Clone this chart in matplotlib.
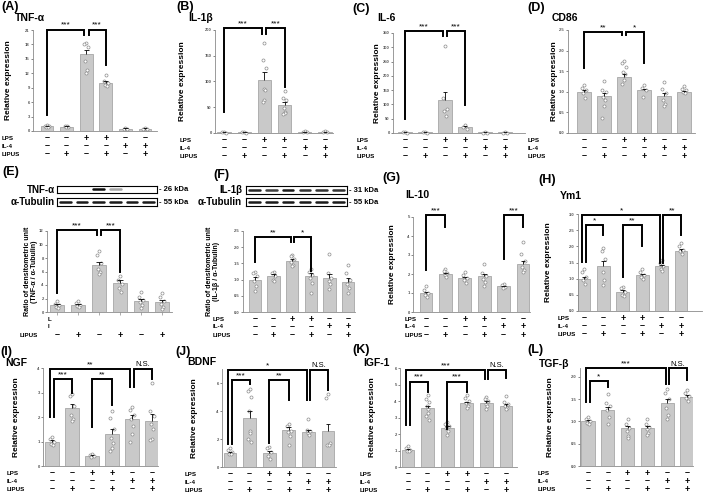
import matplotlib
matplotlib.use("Agg")
import matplotlib.pyplot as plt
import matplotlib.transforms as mtrans

plt.rcParams['font.family'] = ['Liberation Sans', 'DejaVu Sans']
plt.rcParams['font.weight'] = 'bold'

W, H = 709, 494

# treatment table under every panel
lps = ['–', '–', '+', '+', '–', '–']
il4 = ['–', '–', '–', '–', '+', '+']
lipus = ['–', '+', '–', '+', '–', '+']

# (A) TNF-a mRNA
tnf_mean = [1.0, 0.9, 16.0, 10.0, 0.5, 0.5]
tnf_sem = [0.1, 0.1, 0.8, 0.4, 0.05, 0.05]
tnf_pts = [[1.3, 1.1, 1.0, 0.9, 0.8], [1.1, 1.0, 0.9, 0.8],
           [18.4, 18.0, 17.5, 14.5, 12.7, 12.1], [11.6, 10.4, 10.0, 9.6, 9.3],
           [0.6, 0.5, 0.45], [0.6, 0.5, 0.45]]
# (B) IL-1b mRNA
il1b_mean = [1, 1, 103, 54, 2, 2]
il1b_sem = [0.5, 0.3, 16, 6, 0.5, 0.5]
il1b_pts = [[2, 1, 0.5], [1.5, 1, 0.5], [174, 142, 127, 86, 83, 64, 60],
            [81, 68, 64, 48, 40, 38, 37], [3, 2, 1.5], [3, 2, 1.5]]
# (C) IL-6 mRNA
il6_mean = [2, 2, 115, 20, 2, 2]
il6_sem = [0.5, 0.5, 28, 4, 0.5, 0.5]
il6_pts = [[3, 2, 1], [3, 2, 1], [305, 124, 83, 78, 58], [29, 21, 14],
           [2, 1.5, 1], [2, 1.5, 1]]
# (D) CD86
cd86_mean = [1.0, 0.9, 1.35, 1.05, 0.91, 1.0]
cd86_sem = [0.04, 0.08, 0.07, 0.03, 0.06, 0.02]
cd86_pts = [[1.16, 1.1, 1.04, 0.96, 0.85], [1.26, 1.04, 1.0, 0.88, 0.8, 0.65, 0.37],
            [1.75, 1.69, 1.6, 1.49, 1.43, 1.28, 1.2], [1.16, 1.1, 1.04, 0.88],
            [1.24, 1.06, 0.96, 0.8, 0.71, 0.65], [1.14, 1.08, 1.04, 1.0, 0.96]]
# (E) TNF-a western blot ratio
tnfwb_mean = [1.0, 1.1, 7.0, 4.3, 1.6, 1.5]
tnfwb_sem = [0.15, 0.15, 0.45, 0.4, 0.35, 0.35]
tnfwb_pts = [[1.7, 1.2, 1.0, 0.8, 0.6], [1.7, 1.3, 1.1, 0.9, 0.7],
             [9.0, 8.5, 7.2, 6.3, 6.0, 5.7], [5.4, 4.8, 4.2, 3.6, 2.9],
             [3.0, 2.2, 1.8, 1.5, 1.0, 0.6], [2.8, 2.2, 1.6, 1.2, 0.8, 0.5]]
# (F) IL-1b western blot ratio
il1bwb_mean = [1.0, 1.12, 1.58, 1.12, 1.04, 0.92]
il1bwb_sem = [0.08, 0.05, 0.05, 0.08, 0.13, 0.12]
il1bwb_pts = [[1.25, 1.2, 1.1, 0.95, 0.8, 0.65], [1.25, 1.2, 1.1, 1.0, 0.95],
              [1.77, 1.72, 1.65, 1.55, 1.45, 1.42], [1.32, 1.25, 1.15, 1.05, 0.9, 0.6],
              [1.78, 1.2, 1.05, 0.95, 0.85, 0.7], [1.45, 1.2, 1.0, 0.85, 0.75, 0.6]]
# (G) IL-10
il10_mean = [1.0, 2.0, 1.77, 1.87, 1.35, 2.55]
il10_sem = [0.07, 0.05, 0.08, 0.12, 0.04, 0.15]
il10_pts = [[1.35, 1.15, 1.0, 0.9, 0.8], [2.25, 2.15, 2.05, 1.95, 1.85],
            [2.1, 1.95, 1.8, 1.7, 1.55], [2.55, 2.05, 1.9, 1.75, 1.6, 1.35],
            [1.5, 1.4, 1.3, 1.25], [3.7, 3.05, 2.7, 2.35, 2.2, 2.1]]
# (H) Ym1
ym1_mean = [1.0, 1.38, 0.6, 1.1, 1.38, 1.87]
ym1_sem = [0.05, 0.17, 0.05, 0.05, 0.05, 0.06]
ym1_pts = [[1.3, 1.2, 1.05, 0.95, 0.85], [1.95, 1.85, 1.6, 1.2, 0.95, 0.8],
           [0.75, 0.7, 0.6, 0.5, 0.45], [1.3, 1.2, 1.1, 1.05, 1.0],
           [1.58, 1.5, 1.4, 1.3, 1.25], [2.1, 2.0, 1.9, 1.85, 1.75]]
# (I) NGF
ngf_mean = [1.0, 2.37, 0.42, 1.32, 1.92, 1.85]
ngf_sem = [0.05, 0.18, 0.03, 0.2, 0.18, 0.27]
ngf_pts = [[1.2, 1.1, 1.0, 0.9, 0.85], [2.95, 2.85, 2.45, 2.1, 1.9, 1.85],
           [0.5, 0.45, 0.4, 0.38], [2.25, 1.95, 1.5, 1.15, 0.95, 0.75, 0.62],
           [2.4, 2.3, 2.1, 1.9, 1.65, 1.3, 1.0], [3.4, 2.25, 2.05, 1.7, 1.5, 1.1, 1.05]]
# (J) BDNF
bdnf_mean = [1.0, 3.48, 1.0, 2.65, 2.52, 2.6]
bdnf_sem = [0.08, 0.5, 0.15, 0.2, 0.12, 0.5]
bdnf_pts = [[1.35, 1.2, 1.05, 0.95, 0.9], [5.6, 5.4, 5.0, 4.0, 2.6, 2.4, 2.0, 1.8],
            [1.45, 1.35, 1.1, 0.8, 0.6], [3.1, 2.9, 2.6, 2.5, 2.2, 1.6],
            [3.4, 2.65, 2.55, 2.4, 2.3], [5.2, 4.9, 1.7, 1.6, 1.55]]
# (K) IGF-1
igf_mean = [1.03, 3.57, 2.38, 3.85, 3.88, 3.7]
igf_sem = [0.05, 0.15, 0.08, 0.1, 0.1, 0.1]
igf_pts = [[1.25, 1.15, 1.05, 1.0, 0.95], [4.35, 4.15, 3.95, 3.7, 3.5, 3.3, 3.1, 2.85],
           [2.75, 2.6, 2.5, 2.35, 2.2, 1.95], [4.35, 4.2, 4.0, 3.85, 3.7, 3.6],
           [4.25, 4.15, 4.0, 3.8, 3.7, 3.5], [4.3, 3.95, 3.8, 3.7, 3.6, 3.5]]
# (L) TGF-b
tgf_mean = [1.0, 1.25, 0.85, 0.86, 1.42, 1.55]
tgf_sem = [0.03, 0.07, 0.04, 0.03, 0.08, 0.04]
tgf_pts = [[1.1, 1.05, 1.0, 0.97, 0.95], [1.62, 1.42, 1.35, 1.25, 1.1, 0.95],
           [1.05, 0.95, 0.85, 0.78, 0.68, 0.62], [1.05, 0.95, 0.88, 0.82, 0.75, 0.7],
           [1.72, 1.65, 1.5, 1.3, 1.15, 1.05], [1.7, 1.65, 1.58, 1.52, 1.45]]

# western blot band intensities (0 = no band)
tnf_band = [0, 0, 0.95, 0.35, 0, 0]
tub_band_e = [0.9, 0.9, 0.9, 0.9, 0.9, 0.9]
il1b_band = [0.85, 0.75, 0.9, 0.8, 0.8, 0.8]
tub_band_f = [0.9, 0.9, 0.9, 0.9, 0.9, 0.9]

# significance brackets: x left, x right, y left leg, y right leg, y top, text
br_a = [(0, 1.9, 3.3, 20.0, 21.1, '***'), (2.12, 3, 20.0, 13.7, 21.1, '***')]
br_b = [(0, 1.9, 40, 193, 203, '***'), (2.1, 3, 193, 90, 203, '***')]
br_c = [(0, 1.9, 49, 338, 357, '***'), (2.1, 3, 338, 98, 357, '***')]
br_d = [(0, 1.92, 1.57, 2.38, 2.46, '**'), (2.08, 3, 2.38, 1.69, 2.46, '*')]
br_e = [(0, 1.9, 2.8, 11.4, 12.15, '***'), (2.1, 3, 11.4, 5.9, 12.15, '***')]
br_f = [(0, 1.92, 1.55, 2.17, 2.32, '**'), (2.08, 3, 2.17, 1.26, 2.32, '*')]
br_g = [(0, 1, 2.19, 4.47, 5.08, '***'), (4, 5, 2.8, 4.47, 5.08, '***')]
br_h = [(-0.1, 3.92, 1.53, 1.47, 2.98, '*'), (0.1, 1, 1.53, 2.36, 2.65, '*'),
        (2, 3, 1.06, 2.01, 2.65, '**'), (4.08, 5, 1.47, 2.36, 2.98, '**')]
br_i = [(-0.1, 3.92, 2.0, 3.22, 3.96, '**'), (0.1, 1, 2.0, 3.0, 3.55, '***'),
        (2, 3, 1.58, 2.5, 3.55, '**'), (4.08, 5, 3.22, 3.55, 3.96, 'N.S.')]
br_j = [(-0.1, 3.92, 1.67, 4.81, 6.95, '*'), (0.1, 1, 1.67, 5.9, 6.24, '***'),
        (2, 3, 1.71, 4.81, 6.24, '**'), (4.08, 5, 4.81, 5.48, 6.95, 'N.S.')]
br_k = [(-0.1, 3.92, 2.54, 5.33, 5.9, '***'), (0.1, 1, 2.54, 4.57, 5.18, '***'),
        (2, 3, 2.28, 4.57, 5.18, '***'), (4.08, 5, 5.33, 5.39, 5.9, 'N.S.')]
br_l = [(-0.1, 3.92, 1.44, 1.85, 2.19, '***'), (0.1, 1, 1.44, 1.78, 1.91, '*'),
        (4.08, 5, 1.85, 1.93, 2.19, 'N.S.')]

REL = 'Relative expression'
panels = [
    # label, title, mean, sem, pts, ticks, ymax, ylabel, brackets,
    # (axis left, axis right, first bar, last bar, top px, bottom px), ylabel x, row-label x, label pos, title pos
    ('(A)', 'TNF-α', tnf_mean, tnf_sem, tnf_pts, range(0, 22, 3), 21, REL, br_a,
     (33, 157, 47, 145, 30, 131), 9, 2, (1, 7), (15, 18)),
    ('(B)', 'IL-1β', il1b_mean, il1b_sem, il1b_pts, range(0, 201, 50), 200, REL, br_b,
     (215, 333, 224, 325, 30, 133), 182, 180, (176, 7), (188, 18)),
    ('(C)', 'IL-6', il6_mean, il6_sem, il6_pts, range(0, 351, 50), 350, REL, br_c,
     (393, 525, 405, 505, 33, 133), 378, 357, (352, 9), (377, 18)),
    ('(D)', 'CD86', cd86_mean, cd86_sem, cd86_pts, [0, .5, 1, 1.5, 2, 2.5], 2.5, REL, br_d,
     (568, 695, 584, 684, 30, 133), 554, 528, (527, 8), (552, 18)),
    ('(E)', None, tnfwb_mean, tnfwb_sem, tnfwb_pts, range(0, 13, 2), 12,
     'Ratio of densitometric unit\n(TNF-α / α-Tubulin)', br_e,
     (47, 172, 57, 162, 231, 312), 31, 20, (2, 172), None),
    ('(F)', None, il1bwb_mean, il1bwb_sem, il1bwb_pts, [0, .5, 1, 1.5, 2, 2.5], 2.5,
     'Ratio of densitometric unit\n(IL-1β / α-Tubulin)', br_f,
     (243, 355, 255, 348, 231, 312), 213, 213, (213, 175), None),
    ('(G)', 'IL-10', il10_mean, il10_sem, il10_pts, range(0, 6), 5, REL, br_g,
     (413, 530, 426, 523, 217, 312), 392, 405, (382, 178), (405, 195)),
    ('(H)', 'Ym1', ym1_mean, ym1_sem, ym1_pts, [0, .5, 1, 1.5, 2, 2.5, 3], 3, REL, br_h,
     (578, 702, 584, 681, 214, 311), 548, 558, (538, 180), (560, 196)),
    ('(I)', 'NGF', ngf_mean, ngf_sem, ngf_pts, range(0, 5), 4, REL, br_i,
     (43, 158, 52, 152, 368, 466), 17, 7, (0, 352), (5, 363)),
    ('(J)', 'BDNF', bdnf_mean, bdnf_sem, bdnf_pts, [0, 2, 4, 6], 7, REL, br_j,
     (222, 336, 230, 328, 369, 467), 195, 185, (175, 352), (187, 362)),
    ('(K)', 'IGF-1', igf_mean, igf_sem, igf_pts, range(0, 7), 6, REL, br_k,
     (400, 517, 408, 506, 368, 467), 373, 360, (352, 350), (363, 363)),
    ('(L)', 'TGF-β', tgf_mean, tgf_sem, tgf_pts, [0, .5, 1, 1.5, 2], 2.2, REL, br_l,
     (580, 693, 588, 687, 368, 466), 550, 538, (527, 350), (539, 364)),
]

fig = plt.figure(figsize=(W / 100, H / 100), dpi=100)


def fx(px):
    return px / W


def fy(py):
    return 1 - py / H


jitter = [0, -0.09, 0.09, -0.04, 0.04, 0, -0.09, 0.09]

for (lab, title, mean, sem, pts, ticks, ymax, ylab, brs, geo, ylx, rlx,
     lpos, tpos) in panels:
    left, right, c0, c5, ytop, ybot = geo
    s = (c5 - c0) / 5
    ax = fig.add_axes([fx(left), fy(ybot), fx(right - left), (ybot - ytop) / H])
    ax.set_xlim(-(c0 - left) / s, 5 + (right - c5) / s)
    ax.set_ylim(0, ymax)
    x = list(range(6))
    ax.bar(x, mean, width=0.66, color='#c9c9c9', edgecolor='#9a9a9a', lw=0.5, zorder=2)
    for i, p in enumerate(pts):
        ax.plot([i + jitter[k % len(jitter)] for k in range(len(p))], p, 'o', ms=2.2,
                mfc='white', mec='#8c8c8c', mew=0.5, zorder=3, clip_on=False)
    tops = [m + e for m, e in zip(mean, sem)]
    ax.vlines(x, mean, tops, color='black', lw=0.6, zorder=4)
    ax.hlines(tops, [i - 0.12 for i in x], [i + 0.12 for i in x], color='black', lw=0.6, zorder=4)

    for xl, xr, yl, yr, yt, txt in brs:
        ax.plot([xl, xl, xr, xr], [yl, yt, yt, yr], color='black', lw=1.4,
                clip_on=False, solid_joinstyle='miter', zorder=5)
        ax.annotate(txt, ((xl + xr) / 2, yt), xytext=(0, 0.5), textcoords='offset points',
                    ha='center', va='bottom', fontsize=5.5 if txt == 'N.S.' else 6,
                    fontweight='normal', annotation_clip=False)

    for sp in ['top', 'right']:
        ax.spines[sp].set_visible(False)
    for sp in ['left', 'bottom']:
        ax.spines[sp].set_color('#8a8a8a')
        ax.spines[sp].set_linewidth(0.6)
    ax.set_yticks(list(ticks))
    if isinstance(ticks, list) and any(isinstance(t, float) for t in ticks):
        ax.set_yticklabels(['%.1f' % t for t in ticks])
    ax.tick_params(axis='y', labelsize=3, length=1.5, width=0.5, pad=0.8,
                   colors='#555555')
    ax.set_xticks(x)
    ax.set_xticklabels([])
    ax.tick_params(axis='x', length=2 if lab == '(E)' else 0, width=0.5, color='#8a8a8a')

    nlines = ylab.count('\n') + 1
    fig.text(fx(ylx), fy((ytop + ybot) / 2), ylab, rotation=90, ha='center', va='center',
             fontsize=6 if nlines == 1 else 5, linespacing=1.1)

    fig.text(fx(lpos[0]), fy(lpos[1]), lab, fontsize=9, ha='left', va='center')
    if title:
        fig.text(fx(tpos[0]), fy(tpos[1]), title, fontsize=7.5, ha='left', va='center')

    # treatment sign table
    tr = mtrans.blended_transform_factory(ax.transData, fig.transFigure)
    rows = [('LPS', lps, 7), ('IL-4', il4, 15), ('LIPUS', lipus, 23)]
    for name, signs, off in rows:
        yy = fy(ybot + off)
        if lab == '(E)' and name != 'LIPUS':
            fig.text(fx(48), yy, name[0] if name == 'LPS' else 'I', fontsize=4.5,
                     ha='left', va='center')
            continue
        fig.text(fx(rlx), yy, name, fontsize=4.5, ha='left', va='center')
        for i, sg in enumerate(signs):
            ax.text(i, yy, sg, transform=tr, ha='center', va='center', fontsize=6.5)


# western blot strips for E and F
def blot(box, bands, name, kda, name_x):
    l, t, r, b = box
    bx = fig.add_axes([fx(l), fy(b), fx(r - l), (b - t) / H])
    bx.set_xlim(0, 6)
    bx.set_ylim(0, 1)
    bx.set_xticks([])
    bx.set_yticks([])
    for sp in bx.spines.values():
        sp.set_linewidth(0.8)
    for i, v in enumerate(bands):
        if v > 0:
            bx.plot([i + 0.18, i + 0.82], [0.5, 0.5], color=str(round(1 - v, 2)),
                    lw=1.8, solid_capstyle='round')
    fig.text(fx(name_x), fy((t + b) / 2), name, fontsize=7, ha='right', va='center')
    fig.text(fx(r + 2), fy((t + b) / 2), '- ' + kda, fontsize=5.5, ha='left', va='center')


blot((57, 186, 157, 193), tnf_band, 'TNF-α', '26 kDa', 55)
blot((57, 198, 157, 206), tub_band_e, 'α-Tubulin', '55 kDa', 55)
blot((246, 186, 347, 194), il1b_band, 'IL-1β', '31 kDa', 242)
blot((246, 198, 347, 206), tub_band_f, 'α-Tubulin', '55 kDa', 242)

fig.savefig('out.png', dpi=100)
